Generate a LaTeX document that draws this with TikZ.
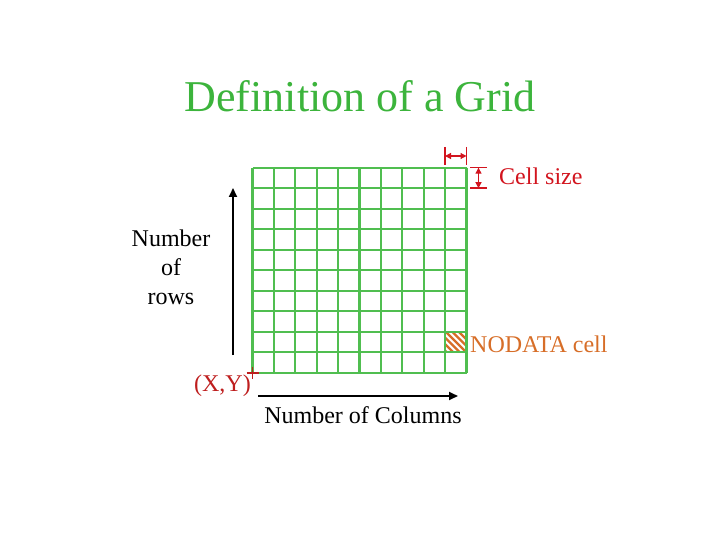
\documentclass[tikz,border=0pt]{standalone}
\usepackage{fontspec}
\setmainfont{Liberation Serif}
\usetikzlibrary{arrows.meta}
\definecolor{titlegreen}{RGB}{60,180,60}
\definecolor{gridgreen}{RGB}{80,190,80}
\definecolor{cellred}{RGB}{210,20,30}
\definecolor{xyred}{RGB}{190,30,30}
\definecolor{nodataorange}{RGB}{215,110,40}
\tikzset{
  gridline/.style={gridgreen, line width=2.2pt},
  txt/.style={font=\fontsize{24}{28}\selectfont, inner sep=0pt},
  axisarrow/.style={black, line width=1.8pt, -{Triangle[length=9pt,width=8pt]}},
  redmark/.style={cellred, line width=1.6pt},
  reddbl/.style={cellred, line width=1.2pt, {Triangle[length=6pt,width=6pt]}-{Triangle[length=6pt,width=6pt]}},
  hatch/.style={nodataorange, line width=2.2pt}
}
\begin{document}
\begin{tikzpicture}[x=1pt,y=-1pt]
\useasboundingbox (0,0) rectangle (720,540);
% title
\node[font=\fontsize{44}{50}\selectfont, text=titlegreen, inner sep=0pt] (title) at (360,96) {Definition of a Grid};
% NODATA cell hatch
\begin{scope}
  \clip (446,332) rectangle (467,352);
  \foreach \k in {-26,-19.5,...,26} {
    \draw[hatch] ({446+\k},332) -- ({466+\k},352);
  }
\end{scope}
\node[draw=none, minimum width=21pt, minimum height=20pt] (nodatacell) at (456.5,342) {};
% grid
\foreach \i in {0,...,10} {
  \draw[gridline] ({252.5+\i*21.4},167.7) -- ({252.5+\i*21.4},372.7);
  \draw[gridline] (252.5,{167.7+\i*20.5}) -- (466.5,{167.7+\i*20.5});
}
\coordinate (origin) at (252.5,372.7);
% cell size markers
\coordinate (t1a) at (445,147); \coordinate (t1b) at (445,165);
\coordinate (t2a) at (466.5,147); \coordinate (t2b) at (466.5,165);
\draw[redmark] (t1a) -- (t1b);
\draw[redmark] (t2a) -- (t2b);
\coordinate (ha) at (445,156); \coordinate (hb) at (466.5,156);
\draw[reddbl] (ha) -- (hb);
\coordinate (v1a) at (470,167.7); \coordinate (v1b) at (487,167.7);
\coordinate (v2a) at (470,188.2); \coordinate (v2b) at (487,188.2);
\draw[redmark] (v1a) -- (v1b);
\draw[redmark] (v2a) -- (v2b);
\coordinate (va) at (478.5,167.7); \coordinate (vb) at (478.5,188.2);
\draw[reddbl] (va) -- (vb);
\node[txt, text=cellred, anchor=west] (cellsize) at (499,176) {Cell size};
% nodata label
\node[txt, text=nodataorange, anchor=west] (nodata) at (470,344) {NODATA cell};
% origin
\draw[xyred, line width=1.6pt] (origin) ++(-6,0) -- ++(12,0) (origin) ++(0,-6) -- ++(0,12);
\node[txt, text=xyred, anchor=east] (xy) at (251,386) {(X,Y)};
% axes arrows
\coordinate (upa) at (233,355); \coordinate (upb) at (233,188);
\draw[axisarrow] (upa) -- (upb);
\coordinate (ra) at (258,396); \coordinate (rb) at (458,396);
\draw[axisarrow] (ra) -- (rb);
\node[txt, anchor=center] (cols) at (363,415) {Number of Columns};
\node[txt, align=center, font=\fontsize{24}{29}\selectfont] (rows) at (171,267) {Number\\of\\rows};
\end{tikzpicture}
\end{document}
